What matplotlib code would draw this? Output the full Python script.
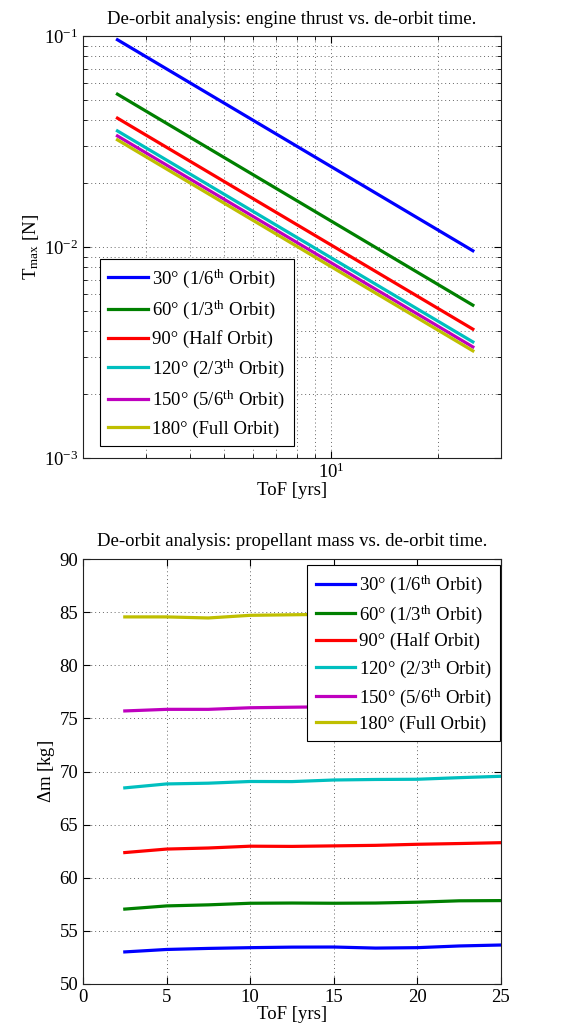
import matplotlib
matplotlib.use("Agg")
import matplotlib.pyplot as plt
from matplotlib.ticker import LogLocator, FixedLocator

plt.rcParams['font.family'] = ['Liberation Serif', 'DejaVu Serif']
plt.rcParams['mathtext.fontset'] = 'custom'
plt.rcParams['mathtext.rm'] = 'Liberation Serif'
plt.rcParams['mathtext.it'] = 'Liberation Serif:italic'
plt.rcParams['mathtext.bf'] = 'Liberation Serif:bold'

tof = [2.5, 5, 7.5, 10, 12.5, 15, 17.5, 20, 22.5, 25]

labels = [r'30° (1/6$^{\rm th}$ Orbit)', r'60° (1/3$^{\rm th}$ Orbit)', '90° (Half Orbit)',
          r'120° (2/3$^{\rm th}$ Orbit)', r'150° (5/6$^{\rm th}$ Orbit)', '180° (Full Orbit)']
colors = ['#0000ff', '#008000', '#ff0000', '#00bfbf', '#bf00bf', '#bfbf00']

thrust_30 = [0.09600, 0.04800, 0.03200, 0.02400, 0.01920, 0.01600, 0.013714, 0.01200, 0.010667, 0.00960]
thrust_60 = [0.05300, 0.02650, 0.017667, 0.01325, 0.01060, 0.008833, 0.007571, 0.006625, 0.005889, 0.00530]
thrust_90 = [0.04080, 0.02040, 0.01360, 0.01020, 0.00816, 0.00680, 0.005829, 0.00510, 0.004533, 0.00408]
thrust_120 = [0.03550, 0.01775, 0.011833, 0.008875, 0.00710, 0.005917, 0.005071, 0.004438, 0.003944, 0.00355]
thrust_150 = [0.03360, 0.01680, 0.01120, 0.00840, 0.00672, 0.00560, 0.00480, 0.00420, 0.003733, 0.00336]
thrust_180 = [0.03220, 0.01610, 0.010733, 0.00805, 0.00644, 0.005367, 0.0046, 0.004025, 0.003578, 0.00322]

mass_30 = [53.02, 53.25, 53.35, 53.42, 53.47, 53.48, 53.38, 53.42, 53.58, 53.67]
mass_60 = [57.05, 57.35, 57.45, 57.60, 57.62, 57.60, 57.62, 57.70, 57.83, 57.85]
mass_90 = [62.37, 62.70, 62.80, 62.97, 62.95, 63.00, 63.05, 63.15, 63.22, 63.30]
mass_120 = [68.46, 68.83, 68.90, 69.06, 69.05, 69.20, 69.25, 69.27, 69.42, 69.55]
mass_150 = [75.70, 75.85, 75.85, 76.00, 76.05, 76.10, 76.20, 76.30, 76.40, 76.50]
mass_180 = [84.55, 84.55, 84.45, 84.70, 84.75, 84.80, 84.90, 84.95, 85.00, 85.10]

thrusts = [thrust_30, thrust_60, thrust_90, thrust_120, thrust_150, thrust_180]
masses = [mass_30, mass_60, mass_90, mass_120, mass_150, mass_180]

fig = plt.figure(figsize=(5.65, 10.33), dpi=100)
W, H = 565, 1033
ax1 = fig.add_axes([83 / W, 1 - 458 / H, (501 - 83) / W, (458 - 36) / H])
ax2 = fig.add_axes([83 / W, 1 - 984 / H, (501 - 83) / W, (984 - 559) / H])

fs = 13.5
lfs = 13.5
grid_kw = dict(color='#666666', linestyle=(0, (1, 3)), linewidth=0.7)

for t, c, l in zip(thrusts, colors, labels):
    ax1.plot(tof, t, color=c, lw=2.3, label=l)
ax1.set_xscale('log')
ax1.set_yscale('log')
ax1.set_xlim(2, 30)
ax1.set_ylim(1e-3, 1e-1)
ax1.xaxis.set_major_locator(FixedLocator([10]))
ax1.xaxis.set_minor_locator(FixedLocator([2, 3, 4, 5, 6, 7, 8, 9, 20, 30]))
ax1.yaxis.set_major_locator(LogLocator(base=10, numticks=10))
ax1.yaxis.set_minor_locator(LogLocator(base=10, subs=range(2, 10), numticks=20))
ax1.grid(True, which='both', **grid_kw)
ax1.set_title('De-orbit analysis: engine thrust vs. de-orbit time.', fontsize=fs, pad=9)
ax1.set_xlabel('ToF [yrs]', fontsize=fs, labelpad=0)
ax1.set_ylabel(r'T$_{\rm max}$ [N]', fontsize=fs, labelpad=2)
leg1 = ax1.legend(loc='lower left', fontsize=lfs, frameon=True, fancybox=False,
                  edgecolor='black', handlelength=2.1, handletextpad=0.25,
                  bbox_to_anchor=(0.04, 0.028), borderaxespad=0.0,
                  labelspacing=0.48, borderpad=0.45, framealpha=1)
leg1.get_frame().set_linewidth(0.8)

for m, c, l in zip(masses, colors, labels):
    ax2.plot(tof, m, color=c, lw=2.3, label=l)
ax2.set_xlim(0, 25)
ax2.set_ylim(50, 90)
ax2.set_xticks([0, 5, 10, 15, 20, 25])
ax2.set_yticks([50, 55, 60, 65, 70, 75, 80, 85, 90])
ax2.grid(True, **grid_kw)
ax2.set_title('De-orbit analysis: propellant mass vs. de-orbit time.', fontsize=fs, pad=9)
ax2.set_xlabel('ToF [yrs]', fontsize=fs, labelpad=0)
ax2.set_ylabel(r'$\Delta$m [kg]', fontsize=fs, labelpad=2)
leg2 = ax2.legend(loc='upper right', fontsize=lfs, frameon=True, fancybox=False,
                  edgecolor='black', handlelength=2.1, handletextpad=0.2,
                  bbox_to_anchor=(0.998, 0.985), borderaxespad=0.0,
                  labelspacing=0.36, borderpad=0.45, framealpha=1)
leg2.get_frame().set_linewidth(0.8)

for ax in (ax1, ax2):
    ax.tick_params(which='both', direction='in', top=True, right=True, labelsize=fs)
    ax.tick_params(which='major', length=5)
    ax.tick_params(which='minor', length=3)
    for s in ax.spines.values():
        s.set_linewidth(0.8)
        s.set_color('#222222')

fig.savefig('out.png', dpi=100)
